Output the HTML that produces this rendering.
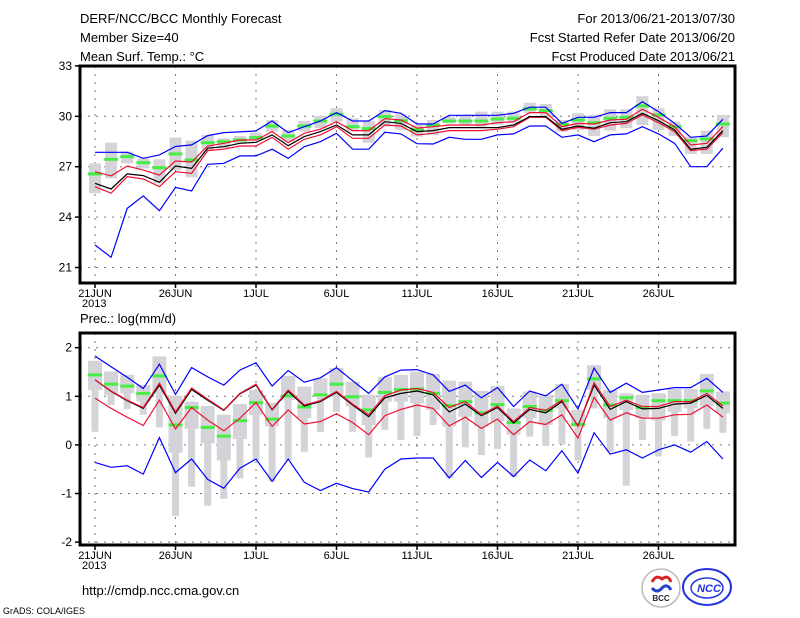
<!DOCTYPE html>
<html><head><meta charset="utf-8"><style>
html,body{margin:0;padding:0;background:#fff}
svg{display:block}
text{font-family:"Liberation Sans",sans-serif;fill:#000}
</style></head><body>
<svg id="chart" width="800" height="618" viewBox="0 0 800 618">
<g font-size="13">
<text x="80" y="23">DERF/NCC/BCC Monthly Forecast</text>
<text x="80" y="42">Member Size=40</text>
<text x="80" y="61">Mean Surf. Temp.: °C</text>
</g>
<g font-size="13" text-anchor="end">
<text x="735" y="23">For 2013/06/21-2013/07/30</text>
<text x="735" y="42">Fcst Started Refer Date 2013/06/20</text>
<text x="735" y="61">Fcst Produced Date 2013/06/21</text>
</g>
<text x="80" y="323" font-size="13">Prec.: log(mm/d)</text>
<text x="82" y="595" font-size="13">http://cmdp.ncc.cma.gov.cn</text>
<text x="3" y="614" font-size="9">GrADS: COLA/IGES</text>
<g>
<circle cx="661" cy="588" r="19" fill="#fff" stroke="#bbb" stroke-width="1.5"/>
<path d="M652 582 q4 -8 10 -3 q6 -5 9 3" fill="none" stroke="#d22" stroke-width="3"/>
<path d="M652 588 q5 6 10 0 q5 -5 9 2" fill="none" stroke="#2244cc" stroke-width="3"/>
<text x="661" y="601" font-size="8" text-anchor="middle" font-weight="bold" style="fill:#223">BCC</text>
</g>
<g>
<ellipse cx="707" cy="587" rx="24" ry="18" fill="#fff" stroke="#2233dd" stroke-width="2"/>
<ellipse cx="707" cy="588" rx="16" ry="10" fill="none" stroke="#2233dd" stroke-width="1.5"/>
<text x="709" y="592" font-size="11" text-anchor="middle" font-weight="bold" font-style="italic" style="fill:#2233dd">NCC</text>
</g>
<g id="top"></g>
<g id="bot"></g>
</svg>
<script>
const dayLabels = ["21JUN","26JUN","1JUL","6JUL","11JUL","16JUL","21JUL","26JUL"];
const dayLabelIdx = [0,5,10,15,20,25,30,35];
const tTicks = [33,30,27,24,21];
const pTicks = [2,1,0,-1,-2];
// Temperature (top panel)
const tBlueHi = [27.86,27.86,27.86,27.5,27.7,28.2,28.3,28.85,29.03,29.07,29.13,29.72,29.03,29.38,29.72,30.22,29.72,29.72,30.34,30.18,29.54,29.54,30.06,30.06,30.06,30.06,30.18,30.54,30.54,29.58,29.94,29.94,30.22,30.22,30.87,30.28,29.58,28.75,28.83,29.82];
const tRedHi = [26.7,26.45,27.04,26.8,26.5,27.34,27.28,28.23,28.39,28.59,28.59,29.09,28.43,28.99,29.23,29.68,29.15,29.15,29.86,29.78,29.3,29.38,29.48,29.48,29.48,29.62,29.68,30.22,30.22,29.38,29.58,29.54,29.78,29.82,30.42,29.94,29.38,28.29,28.39,29.38];
const tMean = [26.01,25.67,26.57,26.47,26.07,27.04,26.9,28.1,28.19,28.39,28.45,28.89,28.25,28.79,29.09,29.48,28.89,28.89,29.68,29.58,29.09,29.15,29.33,29.33,29.33,29.33,29.48,29.98,29.98,29.23,29.42,29.29,29.62,29.68,30.18,29.74,29.19,28.04,28.15,29.15];
const tRedLo = [25.81,25.42,26.41,26.27,25.81,26.7,26.6,27.96,28.04,28.23,28.23,28.75,28.04,28.63,28.89,29.38,28.69,28.69,29.48,29.42,28.89,28.99,29.15,29.15,29.15,29.23,29.38,29.94,29.94,29.15,29.34,29.23,29.48,29.58,30.08,29.62,29.09,27.96,28.04,29.03];
const tBlueLo = [22.34,21.61,24.52,25.26,24.38,25.77,25.56,27.14,27.2,27.64,27.64,28.04,27.5,28.19,28.49,28.99,28.04,28.04,29.05,28.95,28.37,28.35,28.75,28.63,28.63,28.89,28.95,29.42,29.42,28.75,28.89,28.49,28.89,28.95,29.38,28.95,28.39,27.0,27.0,28.1];
const tObs = [26.57,27.44,27.6,27.24,26.94,27.76,27.4,28.43,28.49,28.59,28.73,29.42,28.83,29.42,29.72,30.12,29.38,29.27,29.98,29.74,29.19,29.48,29.72,29.72,29.72,29.84,29.88,30.44,30.34,29.52,29.78,29.62,29.88,29.94,30.62,30.08,29.38,28.55,28.65,29.54];
const tBarHi = [27.2,28.43,27.9,27.5,27.44,28.73,28.55,28.89,28.69,28.83,29.03,29.78,29.19,29.72,30.02,30.48,29.88,29.72,30.38,30.12,29.48,29.78,29.98,30.08,30.28,30.28,30.28,30.81,30.73,29.78,30.18,30.08,30.42,30.42,31.2,30.48,29.68,28.79,29.15,30.08];
const tBarLo = [25.42,26.31,27.2,26.9,26.01,26.8,26.37,28.0,28.1,28.39,28.59,29.09,28.49,29.09,29.29,29.68,29.09,28.43,29.38,29.19,28.79,28.89,29.58,29.48,29.38,29.48,29.58,30.18,29.98,29.09,29.19,28.83,29.15,29.29,29.48,29.19,28.83,27.76,27.76,28.75];
// Precipitation (bottom panel)
const pBlueHi = [1.83,1.61,1.39,1.16,1.66,1.04,1.59,1.40,1.23,1.54,1.69,1.21,1.53,1.29,1.38,1.59,1.32,1.06,1.40,1.54,1.55,1.44,1.10,1.23,0.97,1.18,0.79,1.11,1.01,1.25,0.74,1.58,1.08,1.27,1.08,1.13,1.18,1.18,1.37,1.08];
const pRedHi = [1.34,1.11,0.92,0.77,1.27,0.68,1.17,0.94,0.72,1.06,1.25,0.73,1.13,0.82,0.91,1.10,0.84,0.62,1.01,1.13,1.16,1.08,0.77,0.89,0.62,0.80,0.48,0.77,0.71,0.92,0.38,1.28,0.79,0.92,0.79,0.79,0.89,0.89,1.06,0.80];
const pMean = [1.34,1.10,0.91,0.75,1.23,0.65,1.14,0.92,0.71,1.05,1.23,0.72,1.10,0.80,0.89,1.08,0.82,0.58,0.97,1.06,1.11,1.03,0.68,0.84,0.60,0.77,0.45,0.73,0.66,0.89,0.39,1.23,0.73,0.89,0.74,0.75,0.84,0.86,1.02,0.75];
const pRedLo = [0.96,0.75,0.57,0.40,0.92,0.33,0.77,0.51,0.29,0.55,0.87,0.38,0.72,0.43,0.48,0.64,0.46,0.21,0.60,0.73,0.82,0.75,0.39,0.57,0.34,0.53,0.21,0.48,0.42,0.62,0.14,0.98,0.51,0.66,0.55,0.55,0.62,0.63,0.82,0.57];
const pBlueLo = [-0.36,-0.46,-0.43,-0.60,0.15,-0.57,-0.29,-0.71,-0.89,-0.48,-0.29,-0.75,-0.29,-0.77,-0.94,-0.79,-0.90,-0.97,-0.50,-0.29,-0.27,-0.27,-0.68,-0.32,-0.67,-0.36,-0.65,-0.31,-0.53,-0.12,-0.58,0.25,-0.19,-0.10,-0.27,-0.10,0.00,-0.15,0.07,-0.29];
const pObs = [1.44,1.25,1.21,1.06,1.42,0.41,0.77,0.36,0.18,0.50,0.87,0.53,1.01,0.78,1.03,1.25,0.99,0.72,1.08,1.14,1.15,1.06,0.81,0.89,0.66,0.83,0.46,0.79,0.71,0.91,0.42,1.36,0.82,0.97,0.77,0.91,0.91,0.91,1.11,0.86];
const pBarHi = [1.73,1.51,1.44,1.23,1.82,1.01,0.89,0.80,0.62,0.84,1.13,0.87,1.42,1.20,1.37,1.58,1.30,1.03,1.40,1.44,1.51,1.46,1.32,1.30,1.11,1.21,0.75,1.10,1.03,1.25,0.72,1.64,1.13,1.06,1.03,1.06,1.15,1.15,1.46,1.10];
const pBarLo = [0.27,0.82,0.74,0.62,0.36,-1.46,-0.86,-1.25,-1.11,-0.69,-0.31,-0.75,-0.31,-0.14,0.27,0.68,0.27,-0.26,0.31,0.10,0.18,0.41,-0.68,-0.05,-0.21,-0.08,-0.66,0.17,-0.02,0.01,-0.32,0.75,-0.14,-0.84,0.10,-0.24,0.18,0.07,0.33,0.25];
const pBoxLo = [1.13,1.03,1.06,0.89,1.06,-0.16,0.33,0.03,-0.32,0.12,0.62,0.38,0.92,0.55,0.99,0.99,0.79,0.41,0.89,0.89,0.86,0.72,0.38,0.58,0.38,0.48,0.21,0.55,0.41,0.75,0.38,1.13,0.55,0.72,0.55,0.50,0.68,0.75,0.80,0.65];

const NS = "http://www.w3.org/2000/svg";
function mk(tag, attrs, parent){
  const e = document.createElementNS(NS, tag);
  for (const k in attrs) e.setAttribute(k, attrs[k]);
  parent.appendChild(e);
  return e;
}
const L = 80, R = 735;
function xDay(d){ return 95 + d * 16.1; }
function yT(v){ return 116.3 + (30 - v) * 16.8; }
function yP(v){ return 396.3 + (1 - v) * 48.6; }

function axes(g, top, bot, ticks, yf, prefix){
  // grid
  ticks.forEach(t => {
    const y = yf(t);
    if (y > top + 2 && y < bot - 1) {
      const gl = mk('line',{x1:L,x2:R,y1:y,y2:y,stroke:'#777','stroke-dasharray':'2,6','stroke-width':1},g);
      
      
    }
    const tk = mk('line',{x1:L-5,x2:L,y1:y,y2:y,stroke:'#000','stroke-width':1.5},g);
    
    
    const tx = mk('text',{x:L-8,y:y+4,'font-size':12,'text-anchor':'end'},g);
    tx.textContent = t;
    
    
  });
  dayLabelIdx.forEach((d,i) => {
    const x = xDay(d);
    const gl = mk('line',{x1:x,x2:x,y1:top,y2:bot,stroke:'#777','stroke-dasharray':'2,6','stroke-width':1},g);
    
    
    const tk = mk('line',{x1:x,x2:x,y1:bot,y2:bot+5,stroke:'#000','stroke-width':1.5},g);
    
    
    const tx = mk('text',{x:x,y:bot+14,'font-size':11,'text-anchor':'middle'},g);
    tx.textContent = dayLabels[i];
    
    
  });
  const yr = mk('text',{x:82,y:bot+24,'font-size':11},g);
  yr.textContent = '2013';
  
  
}
function frame(g, top, bot, prefix){
  const f = mk('rect',{x:L,y:top,width:R-L,height:bot-top,fill:'none',stroke:'#000','stroke-width':3},g);
  
  
}
function line(g, arr, yf, color, name){
  const pts = arr.map((v,i) => xDay(i).toFixed(1) + ',' + yf(v).toFixed(1)).join(' ');
  const p = mk('polyline',{points:pts,fill:'none',stroke:color,'stroke-width':1.2},g);
  
  
}
function obs(g, arr, yf, name){
  arr.forEach((v,i) => {
    const r = mk('rect',{x:xDay(i)-7,y:yf(v)-1.5,width:14,height:3,fill:'#44ee44'},g);
    
    
  });
}

// Top panel
const gt = document.getElementById('top');


axes(gt, 66, 283, tTicks, yT, 'temp');
tBarHi.forEach((h,i) => {
  const y1 = yT(h), y2 = yT(tBarLo[i]);
  const r = mk('rect',{x:xDay(i)-6,y:y1,width:12,height:Math.max(1,y2-y1),fill:'#d4d4d8'},gt);
  
  
});
obs(gt, tObs, yT, 'temp-observed-marker');
line(gt, tBlueLo, yT, '#0000ff', 'temp-min-line');
line(gt, tBlueHi, yT, '#0000ff', 'temp-max-line');
line(gt, tRedLo, yT, '#ee1133', 'temp-lower-line');
line(gt, tRedHi, yT, '#ee1133', 'temp-upper-line');
line(gt, tMean, yT, '#000000', 'temp-mean-line');
frame(gt, 66, 283, 'temp');

// Bottom panel
const gb = document.getElementById('bot');


axes(gb, 333, 545, pTicks, yP, 'precip');
pBarHi.forEach((h,i) => {
  const y1 = yP(h), y2 = yP(pBarLo[i]), y3 = yP(pBoxLo[i]);
  const r = mk('rect',{x:xDay(i)-3.5,y:y1,width:7,height:Math.max(1,y2-y1),fill:'#d4d4d8'},gb);
  
  
  const b = mk('rect',{x:xDay(i)-7,y:y1,width:14,height:Math.max(1,y3-y1),fill:'#d4d4d8'},gb);
  
  
});
obs(gb, pObs, yP, 'precip-observed-marker');
line(gb, pBlueLo, yP, '#0000ff', 'precip-min-line');
line(gb, pBlueHi, yP, '#0000ff', 'precip-max-line');
line(gb, pRedLo, yP, '#ee1133', 'precip-lower-line');
line(gb, pMean, yP, '#000000', 'precip-mean-line');
line(gb, pRedHi, yP, '#ee1133', 'precip-upper-line');
frame(gb, 333, 545, 'precip');
</script>
</body></html>
